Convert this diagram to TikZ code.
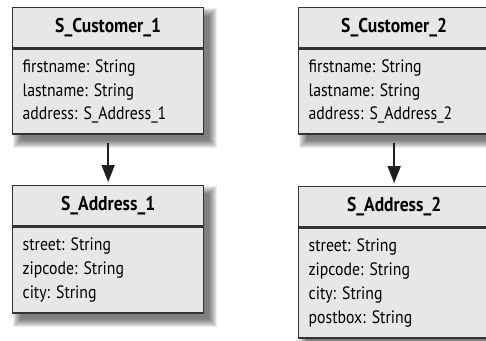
\documentclass[tikz,border=0pt]{standalone}
\usepackage{fontspec}
\setmainfont{PT Sans}[FakeStretch=0.88]
\usetikzlibrary{arrows.meta,positioning}
\pgfdeclarelayer{background}
\pgfsetlayers{background,main}
\definecolor{boxfill}{HTML}{E6E7E8}
\definecolor{boxline}{HTML}{333333}
\definecolor{arrowcol}{HTML}{1E1E1E}
\tikzset{
  classhead/.style={draw=boxline, fill=boxfill, line width=1.3bp,
    minimum width=191bp, minimum height=40bp, inner sep=0pt,
    anchor=north west, font=\bfseries\fontsize{20}{24}\selectfont},
  classbody/.style={draw=boxline, fill=boxfill, line width=1.3bp,
    minimum width=191bp, text width=171bp, inner xsep=10bp, inner ysep=0pt,
    align=left, anchor=north west, font=\fontsize{18}{24}\selectfont},
  assoc/.style={-{Triangle[length=17bp,width=13bp]}, draw=arrowcol,
    line width=1.7bp},
}
% soft drop shadow behind a class box, from its top-left to bottom-right node
\newcommand{\softshadow}[2]{%
  \begin{pgfonlayer}{background}
    \foreach \k in {0,...,8}
      \fill[black, opacity=0.075]
        ([shift={(9-\k,9-\k)}]#1.north west) rectangle
        ([shift={(5+\k,5+\k)}]#2.south east);
  \end{pgfonlayer}}
\frenchspacing
\begin{document}
\begin{tikzpicture}[x=1bp,y=-1bp]
  \useasboundingbox (0,0) rectangle (486,340);

  % customer / address pair 1
  \node[classhead] (c1h) at (12,7) {S\_Customer\_1};
  \node[classbody, minimum height=85bp] (c1b) at (c1h.south west)
    {firstname: String\\lastname: String\\address: S\_Address\_1};
  \node[classhead] (a1h) at (12,185) {S\_Address\_1};
  \node[classbody, minimum height=86bp] (a1b) at (a1h.south west)
    {street: String\\zipcode: String\\city: String};

  % customer / address pair 2
  \node[classhead] (c2h) at (298,7) {S\_Customer\_2};
  \node[classbody, minimum height=85bp] (c2b) at (c2h.south west)
    {firstname: String\\lastname: String\\address: S\_Address\_2};
  \node[classhead] (a2h) at (298,186) {S\_Address\_2};
  \node[classbody, minimum height=110bp] (a2b) at (a2h.south west)
    {street: String\\zipcode: String\\city: String\\postbox: String};

  \softshadow{c1h}{c1b}
  \softshadow{a1h}{a1b}
  \softshadow{c2h}{c2b}
  \softshadow{a2h}{a2b}

  % associations
  \draw[assoc] ([yshift=-8bp]c1b.south) -- ([yshift=3bp]a1h.north);
  \draw[assoc] ([yshift=-8bp]c2b.south) -- ([yshift=3bp]a2h.north);
\end{tikzpicture}
\end{document}
